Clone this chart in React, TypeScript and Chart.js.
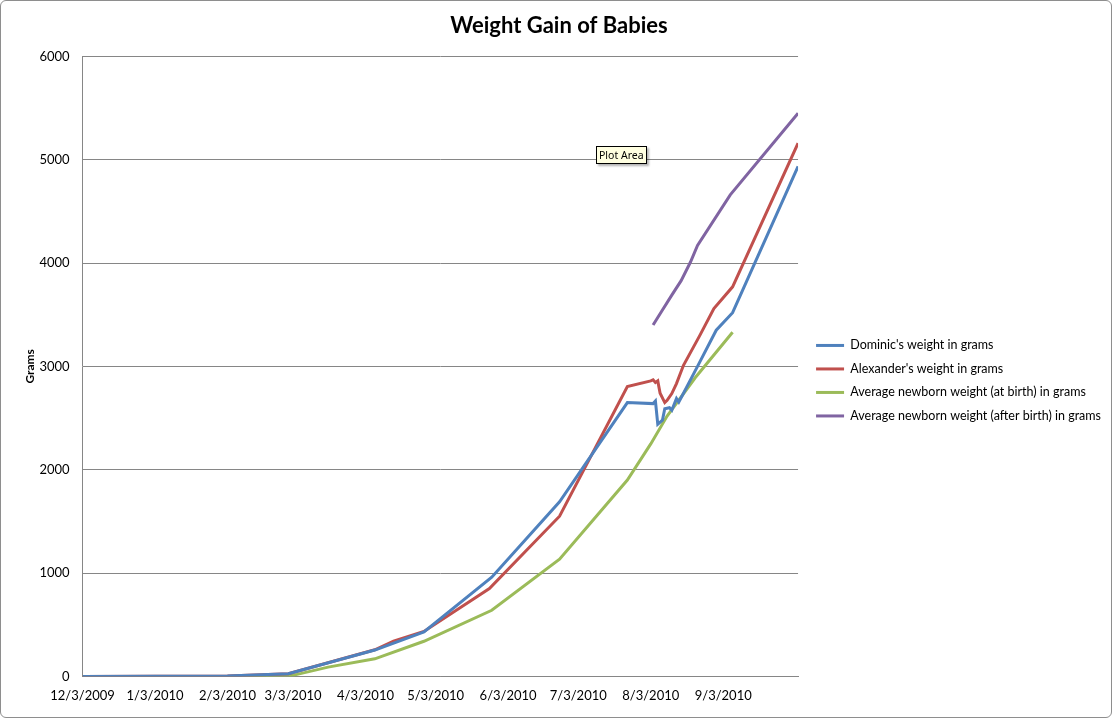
import { useEffect, useRef } from 'react';
import { Chart, registerables } from 'chart.js';

Chart.register(...registerables);

const FONT = 'Lato, "Open Sans", sans-serif';
const GRID = '#868686';

// x axis: month ticks, the axis runs on to early October
const tickLabels = [
  '12/3/2009', '1/3/2010', '2/3/2010', '3/3/2010', '4/3/2010',
  '5/3/2010', '6/3/2010', '7/3/2010', '8/3/2010', '9/3/2010',
];
const axisEnd = '10/5/2010';

const dominicDates = [
  '12/3/2009', '2/3/2010', '3/1/2010', '4/7/2010', '4/28/2010', '5/27/2010',
  '6/25/2010', '7/24/2010', '8/4/2010', '8/5/2010', '8/6/2010', '8/8/2010',
  '8/9/2010', '8/11/2010', '8/12/2010', '8/14/2010', '8/15/2010', '8/17/2010',
  '8/23/2010', '8/31/2010', '9/7/2010', '10/5/2010',
];
const dominicGrams = [
  0, 5, 25, 255, 430, 960,
  1690, 2650, 2640, 2665, 2440, 2480,
  2590, 2600, 2575, 2690, 2655, 2740,
  3000, 3350, 3520, 4935,
];

const alexanderDates = [
  '12/3/2009', '2/3/2010', '3/1/2010', '4/7/2010', '4/15/2010', '4/28/2010',
  '5/26/2010', '6/25/2010', '7/24/2010', '8/3/2010', '8/4/2010', '8/5/2010',
  '8/6/2010', '8/7/2010', '8/9/2010', '8/10/2010', '8/12/2010', '8/14/2010',
  '8/17/2010', '8/24/2010', '8/30/2010', '9/7/2010', '10/5/2010',
];
const alexanderGrams = [
  0, 5, 25, 258, 342, 435,
  850, 1550, 2805, 2860, 2870, 2845,
  2860, 2740, 2650, 2672, 2737, 2834,
  3011, 3300, 3560, 3770, 5160,
];

const atBirthDates = [
  '12/3/2009', '2/3/2010', '3/3/2010', '3/18/2010', '4/7/2010', '4/28/2010',
  '5/27/2010', '6/25/2010', '7/24/2010', '8/3/2010', '8/10/2010', '8/22/2010',
  '9/7/2010',
];
const atBirthGrams = [
  0, 0, 10, 90, 170, 340,
  640, 1135, 1900, 2250, 2520, 2890,
  3330,
];

const afterBirthDates = [
  '8/4/2010', '8/7/2010', '8/12/2010', '8/16/2010', '8/20/2010', '8/23/2010',
  '9/6/2010', '10/5/2010',
];
const afterBirthGrams = [3400, 3510, 3690, 3830, 4010, 4170, 4660, 5450];

const dayOf = (s: string) => {
  const [m, d, y] = s.split('/').map(Number);
  return (Date.UTC(y, m - 1, d) - Date.UTC(2009, 11, 3)) / 86400000;
};

const points = (dates: string[], grams: number[]) =>
  dates.map((d, i) => ({ x: dayOf(d), y: grams[i] }));

const tickDays = tickLabels.map(dayOf);

export default function App() {
  const canvasRef = useRef<HTMLCanvasElement>(null);
  const chartRef = useRef<Chart | null>(null);

  useEffect(() => {
    document.body.style.margin = '0';
    if (!canvasRef.current) return;
    const ctx = canvasRef.current.getContext('2d');
    if (!ctx) return;

    const line = (label: string, color: string, data: { x: number; y: number }[]) => ({
      label,
      data,
      borderColor: color,
      backgroundColor: color,
      borderWidth: 3,
      pointRadius: 0,
      tension: 0,
    });

    chartRef.current = new Chart(ctx, {
      type: 'line',
      data: {
        datasets: [
          line("Dominic's weight in grams", '#4F81BD', points(dominicDates, dominicGrams)),
          line("Alexander's weight in grams", '#C0504D', points(alexanderDates, alexanderGrams)),
          line('Average newborn weight (at birth) in grams', '#9BBB59', points(atBirthDates, atBirthGrams)),
          line('Average newborn weight (after birth) in grams', '#8064A2', points(afterBirthDates, afterBirthGrams)),
        ],
      },
      options: {
        animation: false,
        responsive: true,
        maintainAspectRatio: false,
        events: [],
        layout: { padding: { left: 6, right: 0, top: 0, bottom: 1 } },
        plugins: {
          title: {
            display: true,
            text: 'Weight Gain of Babies',
            color: '#000',
            font: { family: FONT, size: 22, weight: 'bold' },
            padding: { top: 12, bottom: 17 },
          },
          legend: {
            position: 'right',
            maxWidth: 340,
            title: { display: true, text: '', font: { size: 12 }, padding: { top: 30, bottom: 0 } },
            labels: {
              usePointStyle: true,
              pointStyle: 'line',
              pointStyleWidth: 28,
              boxHeight: 3,
              color: '#000',
              padding: 11,
              font: { family: FONT, size: 12.5 },
            },
          },
          tooltip: { enabled: false },
        },
        scales: {
          x: {
            type: 'linear',
            min: 0,
            max: dayOf(axisEnd),
            afterBuildTicks: (scale) => {
              scale.ticks = tickDays.map((value) => ({ value }));
            },
            ticks: {
              color: '#000',
              font: { family: FONT, size: 13 },
              padding: 12,
              maxRotation: 0,
              autoSkip: false,
              callback: (val) => tickLabels[tickDays.indexOf(Number(val))] ?? '',
            },
            grid: { display: false, drawTicks: false },
            border: { display: true, color: GRID },
          },
          y: {
            min: 0,
            max: 6000,
            ticks: {
              stepSize: 1000,
              color: '#000',
              font: { family: FONT, size: 13 },
              padding: 13,
              callback: (val) => String(val),
            },
            grid: { color: GRID, drawTicks: false },
            border: { color: GRID },
            title: {
              display: true,
              text: 'Grams',
              color: '#000',
              font: { family: FONT, size: 12, weight: 'bold' },
              padding: { top: 16, bottom: -11 },
            },
          },
          // empty spacer between the plot and the legend
          gap: {
            type: 'linear',
            position: 'right',
            display: true,
            grid: { display: false, drawTicks: false },
            border: { display: false },
            ticks: { display: false },
            afterFit: (scale) => {
              scale.width = 7;
            },
          },
        },
      },
    });

    return () => {
      if (chartRef.current) {
        chartRef.current.destroy();
        chartRef.current = null;
      }
    };
  }, []);

  return (
    <div
      style={{
        position: 'relative',
        width: 1112,
        height: 718,
        boxSizing: 'border-box',
        border: '1px solid #8e8e8e',
        borderRadius: 6,
        background: '#fff',
      }}
    >
      <canvas ref={canvasRef} />
      <div
        style={{
          position: 'absolute',
          left: 595,
          top: 145,
          padding: '1px 2px',
          border: '1px solid #000',
          background: '#FFFFE1',
          boxShadow: '2px 2px 2px rgba(0,0,0,0.3)',
          font: '10.5px "Noto Sans", sans-serif',
          lineHeight: '14px',
          color: '#000',
        }}
      >
        Plot Area
      </div>
    </div>
  );
}
